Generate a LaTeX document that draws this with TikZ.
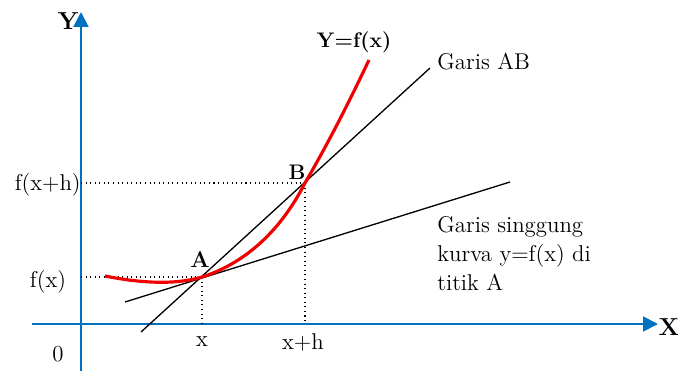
\documentclass[tikz,border=0pt]{standalone}
\usepackage{xcolor}
\usepackage{tikz}
\usetikzlibrary{arrows.meta}

\definecolor{axisblue}{RGB}{0,112,192}
\definecolor{curvered}{RGB}{240,0,0}

\tikzset{
  axis/.style={axisblue, line width=1.1pt, -{Triangle[length=8.5pt, width=8.5pt]}},
  guide/.style={black, dotted, line width=0.6pt},
  chord/.style={black, line width=0.75pt},
  curve/.style={curvered, line width=1.8pt},
  lbl/.style={font=\fontsize{13}{16.4}\selectfont, inner sep=0pt},
  blbl/.style={font=\fontsize{12}{14}\selectfont\bfseries, inner sep=0pt}
}

\begin{document}
\begin{tikzpicture}[x=0.02cm, y=-0.02cm]
    \useasboundingbox (0,0) rectangle (678,371);

    % Points
    \coordinate (O) at (81,324);
    \coordinate (A) at (202,277);
    \coordinate (B) at (305,183);
    \coordinate (xa) at (202,324);
    \coordinate (xb) at (305,324);
    \coordinate (ya) at (81,277);
    \coordinate (yb) at (81,183);

    % Axes
    \coordinate (xstart) at (32,324);
    \coordinate (xend) at (658,324);
    \coordinate (ystart) at (81,371);
    \coordinate (yend) at (81,12);
    \draw[axis] (xstart) -- (xend);
    \draw[axis] (ystart) -- (yend);
    \node[blbl, font=\fontsize{14}{16}\selectfont\bfseries] (Xlbl) at (669,327) {X};
    \node[blbl, font=\fontsize{14}{16}\selectfont\bfseries] (Ylbl) at (68,21) {Y};
    \node[lbl] (Olbl) at (58,354) {0};

    % Dotted guides
    \draw[guide] (ya) -- (A);
    \draw[guide] (yb) -- (B);
    \draw[guide] (A) -- (xa);
    \draw[guide] (B) -- (xb);

    % Tangent and secant lines
    \coordinate (t1) at (125,302);
    \coordinate (t2) at (510,182);
    \coordinate (s1) at (141,332);
    \coordinate (s2) at (430,68);
    \draw[chord] (t1) -- (t2);
    \draw[chord] (s1) -- (s2);

    % Curve
    \coordinate (c0) at (105,276);
    \coordinate (c3) at (369,60);
    \draw[curve] (c0) .. controls (135,282) and (172,286) .. (A)
                 .. controls (240,265) and (278,236) .. (B)
                 .. controls (330,140) and (350,100) .. (c3);

    % Labels
    \node[lbl] (fx) at (48,282) {f(x)};
    \node[lbl, anchor=east] (fxh) at (81,185) {f(x+h)};
    \node[lbl] (xlbl) at (202,342) {x};
    \node[lbl] (xhlbl) at (303,342) {x+h};
    \node[blbl, font=\fontsize{13}{15}\selectfont\bfseries] (Albl) at (200,260) {A};
    \node[blbl] (Blbl) at (297,172) {B};
    \node[blbl] (flbl) at (354,42) {Y=f(x)};
    \node[lbl, anchor=west] (ABlbl) at (437,62) {Garis AB};
    \node[lbl, anchor=north west, align=left] (tlbl) at (437,216)
        {Garis singgung\\kurva y=f(x) di\\titik A};
\end{tikzpicture}
\end{document}
